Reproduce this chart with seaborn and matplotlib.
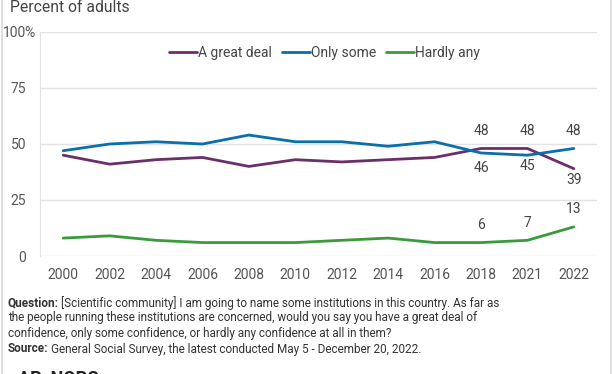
import pandas as pd
import matplotlib.pyplot as plt
import seaborn as sns
from matplotlib.lines import Line2D

# -----------------------------
# Data
# -----------------------------
years = ["2000", "2002", "2004", "2006", "2008", "2010",
         "2012", "2014", "2016", "2018", "2021", "2022"]
great_deal = [45, 41, 43, 44, 40, 43, 42, 43, 44, 48, 48, 39]
only_some = [47, 50, 51, 50, 54, 51, 51, 49, 51, 46, 45, 48]
hardly_any = [8, 9, 7, 6, 6, 6, 7, 8, 6, 6, 7, 13]

series_names = ["A great deal", "Only some", "Hardly any"]
colors = {"A great deal": "#6a2f6b",
          "Only some": "#0a6fab",
          "Hardly any": "#3b9a3b"}

rows = []
for name, vals in zip(series_names, [great_deal, only_some, hardly_any]):
    for i, v in enumerate(vals):
        rows.append({"pos": i, "year": years[i], "value": v, "series": name})
df = pd.DataFrame(rows)

# -----------------------------
# Figure
# -----------------------------
sns.set_style("white")
plt.rcParams["font.family"] = ["Roboto", "DejaVu Sans"]

fig = plt.figure(figsize=(6.12, 3.74), dpi=100)
ax = fig.add_axes([40 / 612, 1 - 256 / 374, 557 / 612, 224 / 374])

sns.lineplot(
    data=df, x="pos", y="value", hue="series",
    hue_order=series_names, palette=colors,
    linewidth=2.0, ax=ax, legend=False
)

ax.set_xlim(-0.5, len(years) - 0.5)
ax.set_ylim(0, 100)
ax.set_xticks(range(len(years)))
ax.set_xticklabels(years)
ax.set_yticks([0, 25, 50, 75, 100])
ax.set_yticklabels(["0", "25", "50", "75", "100"])
ax.tick_params(axis="both", length=0, labelsize=10, colors="#555555")
ax.tick_params(axis="x", pad=8.5)
ax.tick_params(axis="y", pad=10)
ax.set_xlabel("")
ax.set_ylabel("")
ax.yaxis.grid(True, color="#e3e3e3", linewidth=1)
ax.set_axisbelow(True)
for s in ["top", "right", "bottom"]:
    ax.spines[s].set_visible(False)
ax.spines["left"].set_color("#e3e3e3")

# percent sign hanging after the top tick label
ax.annotate("%", xy=(0, 100), xycoords=("axes fraction", "data"),
            xytext=(-11, 0), textcoords="offset points",
            ha="left", va="center_baseline", fontsize=10, color="#555555",
            annotation_clip=False)

# Legend
handles = [Line2D([0], [0], color=colors[n], linewidth=2.0) for n in series_names]
ax.legend(handles, series_names, loc="center", bbox_to_anchor=(0.511, 0.906),
          ncol=3, frameon=False, fontsize=10, handlelength=2.0,
          handletextpad=0.1, columnspacing=0.7, labelcolor="#444444")

# Data labels (series, index, vertical offset in points)
labels = [
    ("A great deal", 9, 12.5), ("A great deal", 10, 12.5), ("Only some", 11, 12.5),
    ("Only some", 9, -11), ("Only some", 10, -7.5), ("A great deal", 11, -8.5),
    ("Hardly any", 9, 12.8), ("Hardly any", 10, 12.8), ("Hardly any", 11, 13),
]
vals = {"A great deal": great_deal, "Only some": only_some, "Hardly any": hardly_any}
for name, i, off in labels:
    v = vals[name][i]
    ax.annotate(str(v), (i, v), xytext=(0, off), textcoords="offset points",
                ha="center", va="center", fontsize=10, color="#444444")

# Title
fig.text(10 / 612, 1 - 8 / 374, "Percent of adults", fontsize=11.3,
         color="#444444", va="center", ha="left")

# Footnote
fs = 8.5
y_lines = [303, 318, 334, 349]
renderer = fig.canvas.get_renderer()
t = fig.text(8 / 612, 1 - y_lines[0] / 374, "Question:", fontsize=fs,
             fontweight="bold", color="#333333", va="center")
w = t.get_window_extent(renderer).width
fig.text((8 + w + 2) / 612, 1 - y_lines[0] / 374,
         "[Scientific community] I am going to name some institutions in this country. As far as",
         fontsize=fs, color="#333333", va="center")
fig.text(8 / 612, 1 - y_lines[1] / 374,
         "the people running these institutions are concerned, would you say you have a great deal of",
         fontsize=fs, color="#333333", va="center")
fig.text(8 / 612, 1 - y_lines[2] / 374,
         "confidence, only some confidence, or hardly any confidence at all in them?",
         fontsize=fs, color="#333333", va="center")
t = fig.text(8 / 612, 1 - y_lines[3] / 374, "Source:", fontsize=fs,
             fontweight="bold", color="#333333", va="center")
w = t.get_window_extent(renderer).width
fig.text((8 + w + 2.5) / 612, 1 - y_lines[3] / 374,
         "General Social Survey, the latest conducted May 5 - December 20, 2022.",
         fontsize=fs, color="#333333", va="center")

# Logo peeking at bottom
fig.text(18 / 612, 1 - 370 / 374, "AP  NORC", fontsize=13, fontweight="bold",
         color="#222222", va="top")

# Side borders
fig.add_artist(Line2D([1.5 / 612, 1.5 / 612], [0, 1], color="#d8d8d8", linewidth=1.2))
fig.add_artist(Line2D([610.5 / 612, 610.5 / 612], [0, 1], color="#d8d8d8", linewidth=1.2))

fig.savefig("out.png", dpi=100)
plt.close(fig)
